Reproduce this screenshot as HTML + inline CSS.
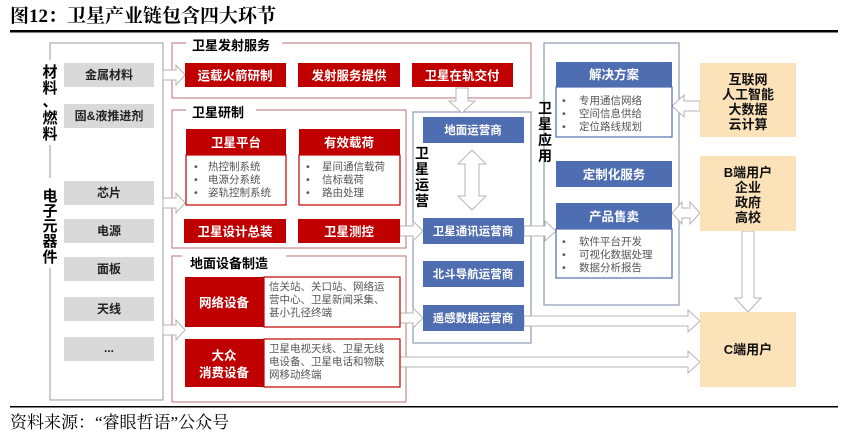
<!DOCTYPE html>
<html><head><meta charset="utf-8"><style>
html,body{margin:0;padding:0;background:#fff;}
svg{display:block;}
.t{font-family:"Liberation Sans","Noto Sans CJK SC",sans-serif;font-weight:bold;}
.n{font-family:"Liberation Sans","Noto Sans CJK SC",sans-serif;}
.s{font-family:"Liberation Serif","Noto Serif CJK SC",serif;}
</style></head><body>
<svg width="848" height="435" viewBox="0 0 848 435" xmlns="http://www.w3.org/2000/svg">
<text x="10" y="22" class="s" font-size="19" font-weight="bold" fill="#000">图12：卫星产业链包含四大环节</text>
<rect x="10" y="30" width="828" height="2.5" fill="#000"/>
<rect x="10" y="406" width="828" height="1.5" fill="#000"/>
<text x="10" y="428" class="s" font-size="17" fill="#000">资料来源：“睿眼哲语”公众号</text>

<g stroke="#999" stroke-width="1" fill="none">
<polyline points="50,60 50,43 163,43 163,400 50,400 50,268"/>
<line x1="50" y1="145" x2="50" y2="178"/>
</g>
<g class="t" font-size="15" fill="#000" text-anchor="middle">
<text x="50" y="77">材</text><text x="50" y="93">料</text><text x="50" y="106">、</text>
<text x="50" y="123">燃</text><text x="50" y="139">料</text>
<text x="50" y="201">电</text><text x="50" y="216">子</text><text x="50" y="231">元</text><text x="50" y="246">器</text><text x="50" y="262">件</text>
</g>
<g fill="#d9d9d9">
<rect x="64" y="63" width="90" height="24"/>
<rect x="64" y="104" width="90" height="24"/>
<rect x="64" y="181" width="90" height="24"/>
<rect x="64" y="219" width="90" height="24"/>
<rect x="64" y="257" width="90" height="24"/>
<rect x="64" y="297" width="90" height="24"/>
<rect x="64" y="337" width="90" height="24"/>
</g>
<g class="t" font-size="12" fill="#222" text-anchor="middle">
<text x="109" y="79">金属材料</text>
<text x="109" y="120">固&amp;液推进剂</text>
<text x="109" y="197">芯片</text>
<text x="109" y="235">电源</text>
<text x="109" y="273">面板</text>
<text x="109" y="313">天线</text>
<text x="109" y="352">...</text>
</g>

<g stroke="#c9898a" stroke-width="1.2" fill="none">
<rect x="172" y="43" width="359" height="55"/>
<rect x="172" y="110" width="234" height="138"/>
<rect x="172" y="256" width="234" height="146"/>
</g>
<g stroke="#8c9bb5" stroke-width="1.2" fill="none">
<rect x="413" y="112" width="118" height="231"/>
<rect x="544" y="43" width="135" height="262"/>
</g>

<g fill="#fff" stroke="#b5b5b5" stroke-width="1">
<polygon points="163,70 176,70 176,65 185,75 176,85 176,80 163,80"/>
<polygon points="163,198 176,198 176,193 185,203 176,213 176,208 163,208"/>
<polygon points="163,325 176,325 176,320 185,330 176,340 176,335 163,335"/>
<polygon points="400,226 413,226 413,221 423,231 413,241 413,236 400,236"/>
<polygon points="524,226 545,226 545,221 556,231 545,241 545,236 524,236"/>
<polygon points="400,313 413,313 413,308 423,318 413,328 413,323 400,323"/>
<polygon points="524,316 688,316 688,310 700,321 688,332 688,326 524,326"/>
<polygon points="400,357 688,357 688,351 700,362 688,373 688,367 400,367"/>
<polygon points="700,101 684,101 684,95 672,106 684,117 684,111 700,111"/>
<polygon points="672,213 682,202 682,208 690,208 690,202 700,213 690,224 690,218 682,218 682,224"/>
<polygon points="456,88 468,88 468,101 475,101 462,113 449,101 456,101"/>
<polygon points="742,231 754,231 754,298 761,298 748,312 735,298 742,298"/>
<polygon points="472,150 486,164 479,164 479,196 486,196 472,210 458,196 465,196 465,164 458,164"/>
</g>

<g class="t" font-size="13" fill="#000">
<rect x="186" y="36" width="96" height="14" fill="#fff"/>
<text x="192" y="50">卫星发射服务</text>
<rect x="186" y="104" width="70" height="14" fill="#fff"/>
<text x="192" y="117">卫星研制</text>
<rect x="182" y="250" width="104" height="14" fill="#fff"/>
<text x="190" y="268">地面设备制造</text>
</g>

<g fill="#c00000">
<rect x="185" y="63" width="101" height="24"/>
<rect x="298" y="63" width="102" height="24"/>
<rect x="412" y="63" width="101" height="24"/>
<rect x="186" y="129" width="100" height="26"/>
<rect x="299" y="129" width="101" height="26"/>
<rect x="184" y="219" width="102" height="24"/>
<rect x="298" y="219" width="102" height="24"/>
<rect x="185" y="277" width="79" height="50"/>
<rect x="185" y="339" width="79" height="48"/>
</g>
<g fill="#fff" stroke="#c00000" stroke-width="1.2">
<rect x="186" y="155" width="100" height="50"/>
<rect x="299" y="155" width="101" height="50"/>
<rect x="264" y="277" width="136" height="50"/>
<rect x="264" y="339" width="136" height="48"/>
</g>
<g class="t" font-size="12.5" fill="#fff" text-anchor="middle">
<text x="235" y="80">运载火箭研制</text>
<text x="349" y="80">发射服务提供</text>
<text x="462" y="80">卫星在轨交付</text>
<text x="236" y="147">卫星平台</text>
<text x="349" y="147">有效载荷</text>
<text x="235" y="236">卫星设计总装</text>
<text x="349" y="236">卫星测控</text>
<text x="224" y="307">网络设备</text>
<text x="224" y="360">大众</text>
<text x="224" y="377">消费设备</text>
</g>
<g class="n" font-size="10.5" fill="#555">
<text x="194" y="170">•</text><text x="208" y="170">热控制系统</text>
<text x="194" y="183">•</text><text x="208" y="183">电源分系统</text>
<text x="194" y="196">•</text><text x="208" y="196">姿轨控制系统</text>
<text x="306" y="170">•</text><text x="322" y="170">星间通信载荷</text>
<text x="306" y="183">•</text><text x="322" y="183">信标载荷</text>
<text x="306" y="196">•</text><text x="322" y="196">路由处理</text>
<text x="269" y="290">信关站、关口站、网络运</text>
<text x="269" y="303">营中心、卫星新闻采集、</text>
<text x="269" y="316">甚小孔径终端</text>
<text x="269" y="352">卫星电视天线、卫星无线</text>
<text x="269" y="365">电设备、卫星电话和物联</text>
<text x="269" y="378">网移动终端</text>
</g>

<g class="t" font-size="14" fill="#000" text-anchor="middle">
<text x="422" y="158">卫</text><text x="422" y="174">星</text><text x="422" y="190">运</text><text x="422" y="206">营</text>
<text x="545" y="113">卫</text><text x="545" y="129">星</text><text x="545" y="145">应</text><text x="545" y="161">用</text>
</g>
<g fill="#4f6db1">
<rect x="423" y="117" width="101" height="26"/>
<rect x="423" y="218" width="101" height="26"/>
<rect x="423" y="261" width="101" height="26"/>
<rect x="423" y="305" width="101" height="26"/>
<rect x="556" y="62" width="116" height="25"/>
<rect x="556" y="161" width="116" height="26"/>
<rect x="556" y="203" width="116" height="26"/>
</g>
<g fill="#fff" stroke="#4f6db1" stroke-width="1.2">
<rect x="556" y="87" width="116" height="50"/>
<rect x="556" y="229" width="116" height="49"/>
</g>
<g class="t" font-size="11.5" fill="#fff" text-anchor="middle">
<text x="473" y="134">地面运营商</text>
<text x="473" y="235">卫星通讯运营商</text>
<text x="473" y="278">北斗导航运营商</text>
<text x="473" y="322">遥感数据运营商</text>
</g>
<g class="t" font-size="12.5" fill="#fff" text-anchor="middle">
<text x="614" y="79">解决方案</text>
<text x="614" y="179">定制化服务</text>
<text x="614" y="221">产品售卖</text>
</g>
<g class="n" font-size="10.5" fill="#555">
<text x="562" y="104">•</text><text x="579" y="104">专用通信网络</text>
<text x="562" y="117">•</text><text x="579" y="117">空间信息供给</text>
<text x="562" y="130">•</text><text x="579" y="130">定位路线规划</text>
<text x="562" y="245">•</text><text x="579" y="245">软件平台开发</text>
<text x="562" y="258">•</text><text x="579" y="258">可视化数据处理</text>
<text x="562" y="271">•</text><text x="579" y="271">数据分析报告</text>
</g>

<g fill="#fbe2b9">
<rect x="700" y="63" width="96" height="74"/>
<rect x="700" y="156" width="96" height="75"/>
<rect x="700" y="312" width="96" height="75"/>
</g>
<g class="t" font-size="13" fill="#111" text-anchor="middle">
<text x="748" y="84">互联网</text>
<text x="748" y="99">人工智能</text>
<text x="748" y="114">大数据</text>
<text x="748" y="129">云计算</text>
<text x="748" y="177">B端用户</text>
<text x="748" y="192">企业</text>
<text x="748" y="207">政府</text>
<text x="748" y="222">高校</text>
<text x="748" y="354">C端用户</text>
</g>
</svg>
</body></html>
